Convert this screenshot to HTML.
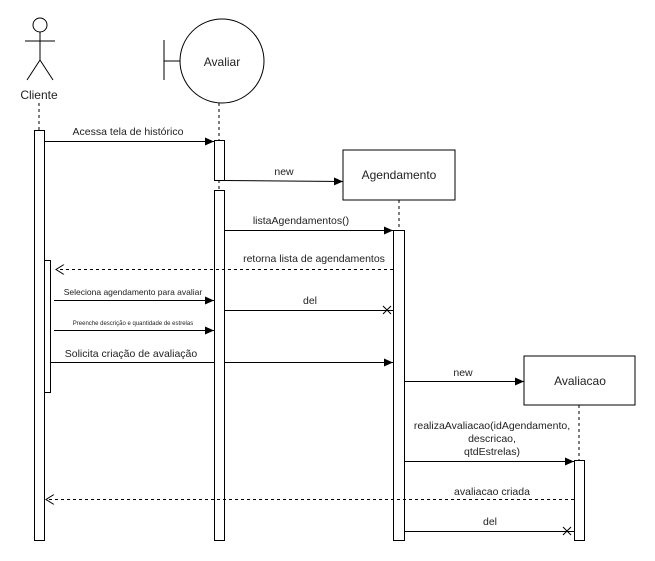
<!DOCTYPE html>
<html><head><style>body{margin:0;background:#fff}svg{display:block}text{font-family:"Liberation Sans",Arial,sans-serif;fill:#222}</style></head>
<body>
<svg width="655" height="561" viewBox="0 0 655 561" xmlns="http://www.w3.org/2000/svg">
<defs>
<marker id="a" markerWidth="10" markerHeight="8" refX="9" refY="4" orient="auto" markerUnits="userSpaceOnUse"><path d="M0,0 L9,4 L0,8 Z" fill="#000"/></marker>
<marker id="o" markerWidth="10" markerHeight="10" refX="9" refY="5" orient="auto" markerUnits="userSpaceOnUse"><path d="M1,0 L9,5 L1,10" fill="none" stroke="#000"/></marker>
</defs>
<g stroke="#000" fill="none" stroke-width="1">
<circle cx="40" cy="25" r="7" fill="#fff"/>
<line x1="40" y1="32" x2="40" y2="60"/><line x1="25" y1="41" x2="55" y2="41"/>
<line x1="40" y1="60" x2="27" y2="80"/><line x1="40" y1="60" x2="53" y2="80"/>
<line x1="39" y1="103" x2="39" y2="130" stroke-dasharray="3,3"/>
<line x1="164" y1="40" x2="164" y2="80"/><line x1="164" y1="61" x2="181" y2="61"/>
<circle cx="222" cy="61" r="42" fill="#fff"/>
<line x1="219" y1="103" x2="219" y2="140" stroke-dasharray="3,3"/>
<line x1="219" y1="180" x2="219" y2="190" stroke-dasharray="3,3"/>
<rect x="343" y="150" width="112" height="50" fill="#fff"/>
<line x1="399" y1="200" x2="399" y2="230" stroke-dasharray="3,3"/>
<rect x="524" y="356" width="111" height="49" fill="#fff"/>
<line x1="579" y1="405" x2="579" y2="460" stroke-dasharray="3,3"/>
<rect x="34.5" y="130.5" width="10" height="410" fill="#fff"/>
<rect x="44.5" y="260.5" width="6" height="132" fill="#fff"/>
<rect x="214.5" y="140.5" width="10" height="40" fill="#fff"/>
<rect x="214.5" y="190.5" width="10" height="350" fill="#fff"/>
<rect x="393.5" y="230.5" width="11" height="310" fill="#fff"/>
<rect x="574.5" y="460.5" width="10" height="80" fill="#fff"/>
<line x1="44" y1="141.5" x2="214" y2="141.5" marker-end="url(#a)"/>
<line x1="224" y1="180.5" x2="343" y2="181.5" marker-end="url(#a)"/>
<line x1="224" y1="230.5" x2="393" y2="230.5" marker-end="url(#a)"/>
<line x1="393" y1="269.5" x2="56" y2="269.5" stroke-dasharray="3,3" marker-end="url(#o)"/>
<line x1="54" y1="300.5" x2="214" y2="300.5" marker-end="url(#a)"/>
<line x1="224" y1="310.5" x2="393" y2="310.5"/>
<path d="M383,306 l8,8 M391,306 l-8,8"/>
<line x1="54" y1="330.5" x2="214" y2="330.5" marker-end="url(#a)"/>
<line x1="50" y1="362.5" x2="214" y2="362.5"/>
<line x1="224" y1="362.5" x2="393" y2="362.5" marker-end="url(#a)"/>
<line x1="404" y1="381.5" x2="524" y2="381.5" marker-end="url(#a)"/>
<line x1="404" y1="461.5" x2="574" y2="461.5" marker-end="url(#a)"/>
<line x1="574" y1="499.5" x2="46" y2="499.5" stroke-dasharray="3,3" marker-end="url(#o)"/>
<line x1="404" y1="531.5" x2="574" y2="531.5"/>
<path d="M563,527 l8,8 M571,527 l-8,8"/>
</g>
<g font-size="12" text-anchor="middle">
<text x="39" y="99">Cliente</text>
<text x="222" y="66">Avaliar</text>
<text x="399" y="179">Agendamento</text>
<text x="580" y="385">Avaliacao</text>
</g>
<g font-size="10.5" text-anchor="middle">
<text x="128" y="135">Acessa tela de histórico</text>
<text x="284" y="175">new</text>
<text x="301" y="224">listaAgendamentos()</text>
<text x="314" y="262">retorna lista de agendamentos</text>
<text x="133" y="295" font-size="8.5">Seleciona agendamento para avaliar</text>
<text x="310" y="304">del</text>
<text x="133" y="325" font-size="6" fill="#555">Preenche descrição e quantidade de estrelas</text>
<text x="131" y="357">Solicita criação de avaliação</text>
<text x="463" y="376">new</text>
<text x="492" y="429">realizaAvaliacao(idAgendamento,</text>
<text x="492" y="442">descricao,</text>
<text x="492" y="455">qtdEstrelas)</text>
<text x="492" y="495">avaliacao criada</text>
<text x="490" y="525">del</text>
</g>
</svg>
</body></html>
